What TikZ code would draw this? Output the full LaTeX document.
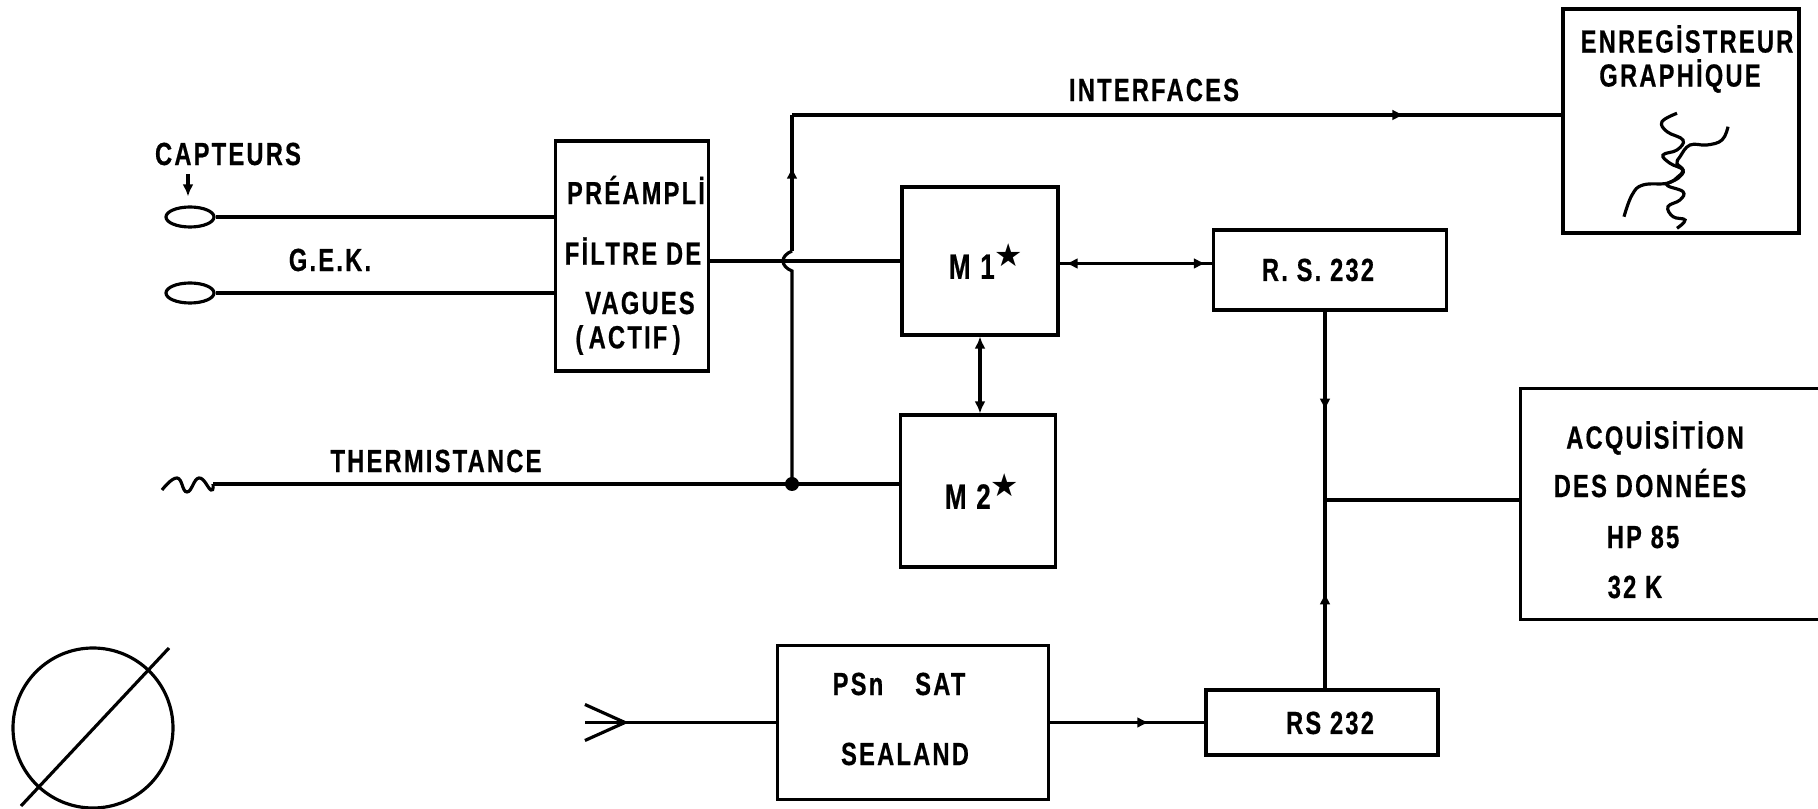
\documentclass[tikz,border=0pt]{standalone}
\usepackage{fontspec}
\setmainfont{Liberation Sans}[FakeStretch=0.74,LetterSpace=7,BoldFeatures={FakeBold=0.5}]
\newfontfamily\starfont{DejaVu Sans}
\usetikzlibrary{positioning, arrows.meta, shapes.geometric, decorations.markings}
\newcommand{\ministar}{\raisebox{3.6pt}{\starfont\fontsize{9pt}{9pt}\selectfont ★}}

\begin{document}
\begin{tikzpicture}[on grid, line width=.9pt, >={Latex[length=1.2mm,width=1.1mm]},
    block/.style={draw, inner sep=0pt, font=\fontsize{9.1pt}{11pt}\selectfont\bfseries},
    lbl/.style={inner sep=0pt, font=\fontsize{9.1pt}{11pt}\selectfont\bfseries},
    sensor/.style={draw, ellipse, minimum width=.48cm, minimum height=.2cm, inner sep=0pt},
    midarrow/.style={postaction={decorate}, decoration={markings, mark=at position #1 with {\arrow{>}}}}]
    \useasboundingbox (0,0) rectangle (18.18,8.08);

    \node[block, minimum width=1.53cm, minimum height=2.30cm] (pre) at (6.32,5.52) {};
    \node[block, minimum width=1.56cm, minimum height=1.48cm] (m1) [below right=.05cm and 3.48cm of pre] {\hspace*{.12cm}{\fontsize{10pt}{11pt}\selectfont M 1}\ministar};
    \node[block, minimum width=1.55cm, minimum height=1.52cm] (m2) [below left=2.30cm and .02cm of m1] {\hspace*{.08cm}{\fontsize{10pt}{11pt}\selectfont M 2}\ministar};
    \node[block, minimum width=2.33cm, minimum height=.80cm]  (rsa) [below right=.09cm and 3.50cm of m1] {};
    \node[block, minimum width=2.32cm, minimum height=.65cm]  (rsb) [below left=4.525cm and .08cm of rsa] {};
    \node[block, minimum width=2.71cm, minimum height=1.54cm] (psn) [left=4.09cm of rsb] {};
    \node[block, minimum width=2.36cm, minimum height=2.24cm] (enr) [above right=1.49cm and 3.51cm of rsa] {};
    \node[minimum width=2.96cm, minimum height=2.28cm, inner sep=0pt] (acq) [below right=2.34cm and 3.40cm of rsa] {};

    \node[lbl] (capteurs)  at (2.28,6.54) {CAPTEURS};
    \node[lbl] (gek)       at (3.30,5.48) {G.E.K.};
    \node[lbl] (therm)     at (4.36,3.47) {THERMISTANCE};
    \node[lbl] (interf)    at (11.54,7.18) {INTERFACES};
    \node[lbl] (preA)      at (6.36,6.18) {PRÉAMPLİ};
    \node[lbl] (preB)      at (6.33,5.57) {FİLTRE DE};
    \node[lbl] (preC)      at (6.40,5.05) {VAGUES};
    \node[lbl] (preD)      at (6.28,4.68) {(\,ACTIF\,)};
    \node[lbl] (enrA)      at (16.87,7.69) {ENREGİSTREUR};
    \node[lbl] (enrB)      at (16.80,7.32) {GRAPHİQUE};
    \node[lbl] (rsatxt)    at (13.18,5.38) {R. S.\ 232};
    \node[lbl] (rsbtxt)    at (13.30,0.85) {RS 232};
    \node[lbl] (acqA)      at (16.55,3.70) {ACQUİSİTİON};
    \node[lbl] (acqB)      at (16.50,3.25) {DES DONNÉES};
    \node[lbl] (acqC)      at (16.43,2.71) {HP 85};
    \node[lbl] (acqD)      at (16.35,2.21) {32 K};
    \node[lbl] (psnA)      at (8.99,1.24) {PSn\hspace{.32cm}SAT};
    \node[lbl] (psnB)      at (9.05,0.54) {SEALAND};

    \node[sensor] (capa) at (1.90,5.91) {};
    \node[sensor] (capb) [below=.76cm of capa] {};
    \node[draw, circle, minimum size=1.6cm, inner sep=0pt] (disc) at (.93,.80) {};
    \coordinate (discA) at (.21,.02);
    \coordinate (discB) at (1.69,1.60);
    \coordinate (thin) at (2.13,3.24);
    \coordinate (junc) at (7.92,3.24);
    \coordinate (corner) at (7.92,6.93);
    \coordinate (hop) at (m1.west -| junc);
    \coordinate (tee) at (13.25,3.08);
    \coordinate[left=1.51cm of psn.west] (ant);

    \draw (acq.north east) -- (acq.north west) -- (acq.south west) -- (acq.south east);

    \draw (capa) -- (capa -| pre.west);
    \draw (capb) -- (capb -| pre.west);
    \draw[->] ([xshift=-.02cm]capa |- capteurs.south) ++(0,-.07) -- ([xshift=-.02cm,yshift=.09cm]capa.north);

    \draw (thin) -- (junc) -- (junc -| m2.west);
    \fill (junc) circle (.07);
    \draw plot[smooth, tension=.8] coordinates {(1.62,3.18) (1.77,3.30) (1.87,3.16) (1.99,3.30) (2.11,3.18) (2.13,3.24)};

    \draw (pre.east |- hop) -- (m1.west);
    \draw (junc) -- ([yshift=-.10cm]hop) .. controls ([xshift=-.12cm,yshift=-.05cm]hop) and ([xshift=-.12cm,yshift=.05cm]hop) .. ([yshift=.10cm]hop);
    \draw[midarrow=.62] ([yshift=.10cm]hop) -- (corner);
    \draw[midarrow=.796] (corner) -- (corner -| enr.west);

    \draw[<->] (m1.south) -- (m1.south |- m2.north);
    \draw ([yshift=-.025cm]m1.east) -- ([yshift=-.025cm]m1.east -| rsa.west);
    \draw[<->, shorten >=.06cm, shorten <=.06cm] ([yshift=-.025cm]m1.east) -- ([yshift=-.025cm]m1.east -| rsa.west);

    \draw[midarrow=.526] (rsa.south -| tee) -- (tee);
    \draw[midarrow=.51] (rsb.north -| tee) -- (tee);
    \draw (tee) -- (tee -| acq.west);

    \draw[midarrow=.643] (psn.east) -- (rsb.west);
    \draw (psn.west) -- (ant) -- ++(-.40,0);
    \draw (ant) -- ++(-.40,.18);
    \draw (ant) -- ++(-.40,-.18);

    \draw (discA) -- (discB);

    \draw plot[smooth, tension=.7] coordinates {(16.77,6.947) (16.62,6.863) (16.67,6.763) (16.83,6.68) (16.77,6.58) (16.63,6.53) (16.70,6.447) (16.83,6.38) (16.78,6.297) (16.67,6.23) (16.83,6.163) (16.80,6.08) (16.68,6.013) (16.73,5.913) (16.85,5.88) (16.77,5.797)};
    \draw plot[smooth, tension=.7] coordinates {(17.28,6.813) (17.22,6.68) (17.07,6.63) (16.90,6.63) (16.80,6.513) (16.77,6.447) (16.83,6.38) (16.78,6.313) (16.67,6.247) (16.43,6.23) (16.32,6.13) (16.24,5.913)};
\end{tikzpicture}
\end{document}
